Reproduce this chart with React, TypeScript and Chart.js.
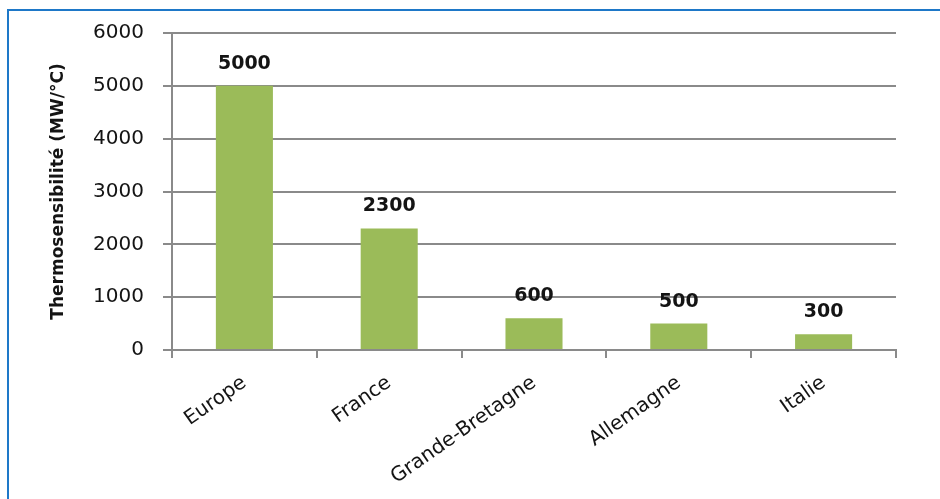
import React, { useEffect, useRef } from "react";
import { Chart, registerables } from "chart.js";

Chart.register(...registerables);

const categories = ["Europe", "France", "Grande-Bretagne", "Allemagne", "Italie"];
const values = [5000, 2300, 600, 500, 300];
const yMin = 0;
const yMax = 6000;
const yStep = 1000;
const yTitle = "Thermosensibilité (MW/°C)";

const FONT = "'DejaVu Sans', sans-serif";
const GRID = "#8a8a8a";
const TEXT = "#141414";
const BAR = "#9BBB59";

const valueLabels = {
  id: "valueLabels",
  afterDatasetsDraw(chart: any) {
    const ctx = chart.ctx;
    const meta = chart.getDatasetMeta(0);
    const data = chart.data.datasets[0].data;
    ctx.save();
    ctx.font = `bold 19px ${FONT}`;
    ctx.fillStyle = TEXT;
    ctx.textAlign = "center";
    ctx.textBaseline = "middle";
    meta.data.forEach((bar: any, i: number) => {
      ctx.fillText(String(data[i]), bar.x, bar.y - 22);
    });
    ctx.restore();
  },
};

export default function App() {
  const ref = useRef<HTMLCanvasElement | null>(null);

  useEffect(() => {
    if (!ref.current) return;
    const chart = new Chart(ref.current, {
      type: "bar",
      data: {
        labels: categories,
        datasets: [
          {
            data: values,
            backgroundColor: BAR,
            barPercentage: 0.394,
            categoryPercentage: 1,
          },
        ],
      },
      options: {
        animation: false,
        responsive: false,
        maintainAspectRatio: false,
        layout: { padding: { left: 0, right: 44, top: 33, bottom: 0 } },
        plugins: { legend: { display: false }, tooltip: { enabled: false } },
        scales: {
          x: {
            grid: {
              display: true,
              drawOnChartArea: false,
              drawTicks: true,
              tickLength: 8,
              color: GRID,
              lineWidth: 2,
              offset: true,
            },
            border: { color: GRID, width: 2 },
            ticks: {
              minRotation: 35,
              maxRotation: 35,
              font: { family: FONT, size: 20 },
              color: TEXT,
              padding: 13,
            },
            afterFit(s: any) {
              s.height = 149;
            },
          },
          y: {
            min: yMin,
            max: yMax,
            ticks: {
              stepSize: yStep,
              font: { family: FONT, size: 20 },
              color: TEXT,
              padding: 19,
              callback: (v: any) => String(v),
            },
            grid: { color: GRID, lineWidth: 2, tickLength: 9 },
            border: { color: GRID, width: 2 },
            title: {
              display: true,
              text: yTitle,
              font: { family: FONT, size: 17, weight: "bold" },
              color: TEXT,
              padding: { top: 48, bottom: 0 },
            },
            afterFit(s: any) {
              s.width = 172;
            },
          },
        },
      },
      plugins: [valueLabels],
    } as any);
    return () => chart.destroy();
  }, []);

  return (
    <div
      style={{
        position: "absolute",
        left: 0,
        top: 0,
        width: 940,
        height: 499,
        overflow: "hidden",
        background: "#ffffff",
      }}
    >
      <div
        style={{
          position: "absolute",
          left: 7,
          top: 9,
          width: 1100,
          height: 1000,
          borderTop: "2px solid #1E78C8",
          borderLeft: "2px solid #1E78C8",
        }}
      />
      <canvas
        ref={ref}
        width={940}
        height={499}
        style={{ position: "absolute", left: 0, top: 0, width: 940, height: 499 }}
      />
    </div>
  );
}
